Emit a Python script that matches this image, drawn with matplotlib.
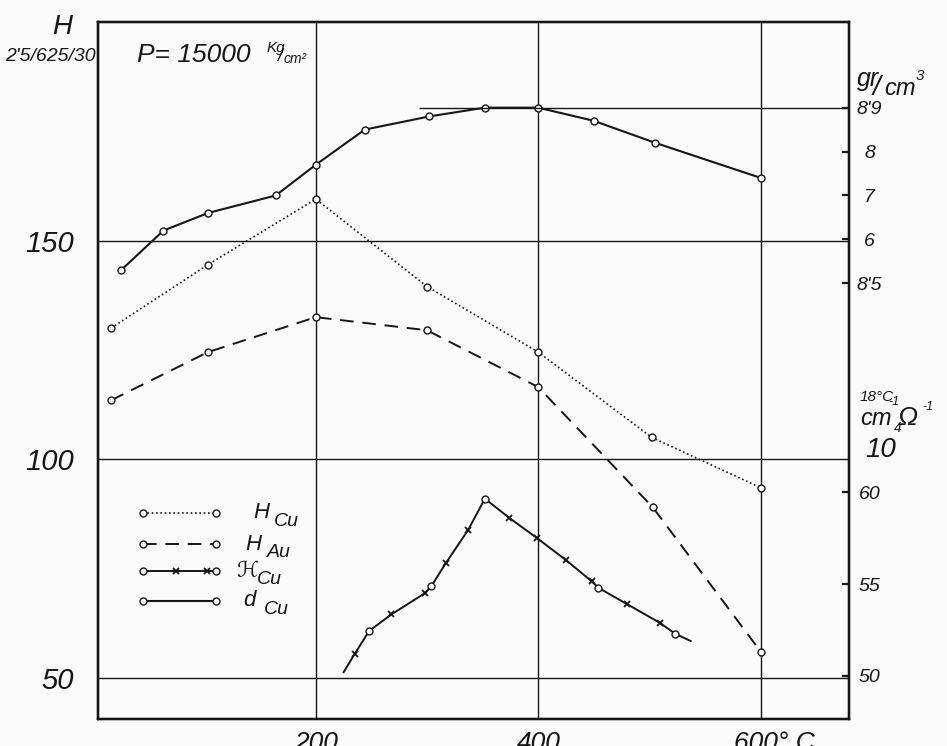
import matplotlib
matplotlib.use("Agg")
import matplotlib.pyplot as plt
from matplotlib.transforms import ScaledTranslation

# Brinell hardness of Cu vs temperature (deg C)
t_hcu = [16, 103, 200, 300, 400, 502, 600]
h_cu = [130.0, 144.5, 159.5, 139.5, 124.5, 105.0, 93.5]

# Brinell hardness of Au
t_hau = [16, 103, 200, 300, 400, 503, 600]
h_au = [113.5, 124.5, 132.5, 129.5, 116.5, 89.0, 56.0]

# density of Cu, gr/cm3
t_dcu = [25, 63, 103, 164, 200, 244, 302, 352, 400, 450, 505, 600]
d_cu = [8.53, 8.62, 8.66, 8.70, 8.77, 8.85, 8.88, 8.90, 8.90, 8.87, 8.82, 8.74]

# conductivity of Cu at 18 C, 10^4 cm^-1 ohm^-1  ('' = line end, no marker)
t_kcu = [225, 235, 248, 268, 298, 304, 317, 337, 352, 374, 399, 425, 448, 454, 480, 509, 523, 537]
k_cu = [50.2, 51.2, 52.45, 53.35, 54.5, 54.9, 56.15, 57.95, 59.65, 58.6, 57.5, 56.3,
        55.15, 54.8, 53.9, 52.9, 52.3, 51.9]
k_mark = ['', 'x', 'o', 'x', 'x', 'o', 'x', 'x', 'o', 'x', 'x', 'x', 'x', 'o', 'x', 'x', 'o', '']

# axis ticks
x_ticks = [200, 400, 600]
x_labels = ["200", "400", "600° C"]
h_ticks = [50, 100, 150]
d_ticks = [8.5, 8.6, 8.7, 8.8, 8.9]
d_labels = ["8'5", "6", "7", "8", "8'9"]
k_ticks = [50, 55, 60]

FAM = ['Liberation Sans Narrow', 'Liberation Sans', 'DejaVu Sans']
INK = '#151515'
plt.rcParams['font.family'] = FAM
plt.rcParams['font.style'] = 'italic'

W, H = 947, 746
fig = plt.figure(figsize=(W / 100, H / 100), dpi=100, facecolor='#fbfbfb')
ax = fig.add_axes([97.8 / W, 1 - 719 / H, 750.8 / W, 697 / H])
ax.set_facecolor('#fbfbfb')

ylo, yhi = 40.6, 200.0
ax.set_xlim(4, 679)
ax.set_ylim(ylo, yhi)

# secondary scales on the right: density and conductivity
ax_d = ax.twinx()
ax_d.set_ylim(8.5 + (ylo - 140.25) / 100.4, 8.5 + (yhi - 140.25) / 100.4)
ax_k = ax.twinx()
ax_k.set_ylim(50 + (ylo - 50.46) / 4.2, 50 + (yhi - 50.46) / 4.2)

for a in (ax, ax_d, ax_k):
    for s in a.spines.values():
        s.set_linewidth(1.6)
        s.set_color(INK)

# grid
ax.set_xticks(x_ticks)
ax.set_xticklabels(x_labels)
ax.set_yticks(h_ticks)
ax.grid(True, color=INK, lw=1.0)
ax.tick_params(axis='both', length=0, colors=INK)
ax.tick_params(axis='y', pad=17, labelsize=21)
ax.tick_params(axis='x', pad=9, labelsize=19)
lbl = ax.get_xticklabels()[-1]
lbl.set_transform(lbl.get_transform() + ScaledTranslation(0.14, 0, fig.dpi_scale_trans))

ax_d.set_yticks(d_ticks)
ax_d.set_yticklabels(d_labels)
ax_k.set_yticks(k_ticks)
for a in (ax_d, ax_k):
    a.tick_params(axis='y', direction='in', length=5, width=1.6, labelsize=14, pad=15, colors=INK)
    for t in a.get_yticklabels():
        t.set_horizontalalignment('center')

# curves
ax.plot(t_hcu, h_cu, color=INK, lw=1.2, ls=(0, (1, 1.6)),
        marker='o', ms=5, mfc='white', mec=INK, mew=1.0)
ax.plot(t_hau, h_au, color=INK, lw=1.4, ls=(0, (7, 4.5)),
        marker='o', ms=5, mfc='white', mec=INK, mew=1.0)
ax_d.plot(t_dcu, d_cu, color=INK, lw=1.5,
          marker='o', ms=5, mfc='white', mec=INK, mew=1.0)
ax_d.hlines(8.9, 293, 679, color=INK, lw=1.0)
ax_k.plot(t_kcu, k_cu, color=INK, lw=1.4)
for m in ('x', 'o'):
    xs = [t for t, mk in zip(t_kcu, k_mark) if mk == m]
    ys = [k for k, mk in zip(k_cu, k_mark) if mk == m]
    if m == 'x':
        ax_k.plot(xs, ys, ls='none', marker='x', ms=5, mec=INK, mew=1.3)
    else:
        ax_k.plot(xs, ys, ls='none', marker='o', ms=5, mfc='white', mec=INK, mew=1.0)

# hand-drawn style legend inside the axes
tr = ax.transAxes
rows = [0.2956, 0.251, 0.2123, 0.1693]
x0, x1 = 0.0602, 0.1574
kw = dict(transform=tr, clip_on=False, color=INK)
okw = dict(ls='none', marker='o', ms=5, mfc='white', mec=INK, mew=1.0, transform=tr, clip_on=False)
ax.plot([x0, x1], [rows[0]] * 2, lw=1.2, ls=(0, (1, 1.6)), **kw)
ax.plot([x0, x1], [rows[1]] * 2, lw=1.4, ls=(0, (7, 4.5)), **kw)
ax.plot([x0, x1], [rows[2]] * 2, lw=1.4, **kw)
ax.plot([0.104, 0.1455], [rows[2]] * 2, ls='none', marker='x', ms=5, mew=1.3, mec=INK,
        transform=tr, clip_on=False)
ax.plot([x0, x1], [rows[3]] * 2, lw=1.5, **kw)
for r in rows:
    ax.plot([x0, x1], [r, r], **okw)
mains = ["H", "H", "ℋ", "d"]
subs = ["Cu", "Au", "Cu", "Cu"]
lx = [0.207, 0.197, 0.184, 0.194]
for r, x, s, sub in zip(rows, lx, mains, subs):
    fam = ['DejaVu Sans'] if s == "ℋ" else FAM
    ax.text(x, r, s, transform=tr, fontsize=16, va='center', ha='left',
            color=INK, family=fam)
    ax.annotate(sub, xy=(x, r), xycoords=tr, xytext=(15, -6), textcoords='offset points',
                fontsize=14, va='center', ha='left', color=INK)

# annotations outside the axes
def ftext(x, y, s, size, **k):
    fig.text(x / W, 1 - y / H, s, fontsize=size, color=INK, **k)

ftext(62, 34, "H", 20, ha='center', va='baseline')
ftext(50, 61, "2'5/625/30", 14, ha='center', va='baseline')
ftext(137, 62, "P= 15000", 19, ha='left', va='baseline')
ftext(267, 52, "Kg", 11, ha='left', va='baseline')
ftext(280, 61, "/", 13, ha='center', va='baseline')
ftext(284, 63, "cm²", 10, ha='left', va='baseline')

ftext(857, 86, "gr", 18, ha='left', va='baseline')
ftext(876, 95, "/", 20, ha='center', va='baseline')
ftext(884, 95, "cm", 17, ha='left', va='baseline')
ftext(916, 80, "3", 11, ha='left', va='baseline')

ftext(860, 401, "18°C", 11, ha='left', va='baseline')
ftext(860, 425, "cm", 17, ha='left', va='baseline')
ftext(888, 405, "-1", 9, ha='left', va='baseline')
ftext(898, 425, "Ω", 19, ha='left', va='baseline', family=['Liberation Sans', 'DejaVu Sans'])
ftext(922, 410, "-1", 9, ha='left', va='baseline')
ftext(865, 457, "10", 20, ha='left', va='baseline')
ftext(894, 432, "4", 10, ha='left', va='baseline')

fig.savefig("out.png", dpi=100, facecolor=fig.get_facecolor())
